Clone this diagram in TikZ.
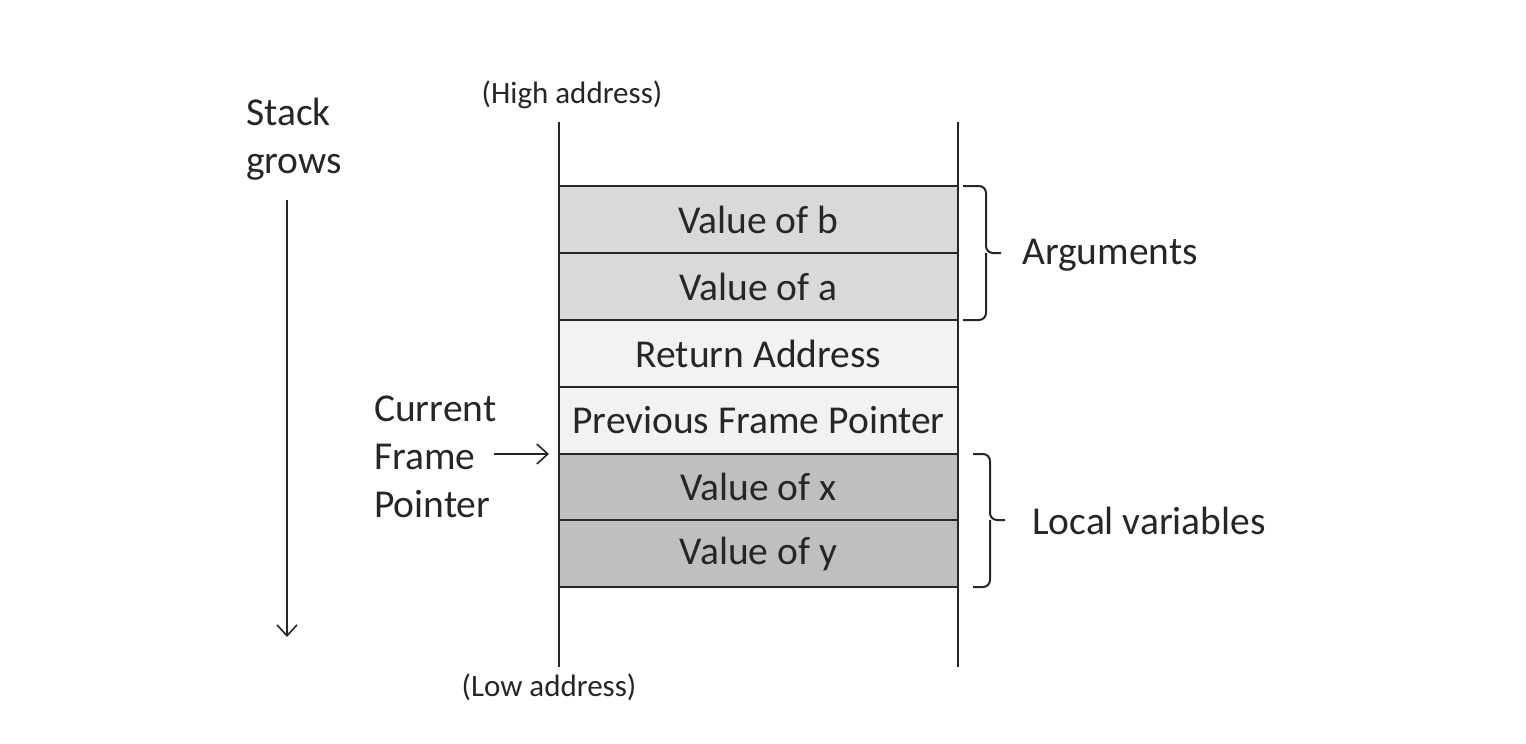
\documentclass[tikz,border=0pt]{standalone}
\usepackage{fontspec}
\setmainfont{Carlito}
\usetikzlibrary{arrows.meta}
\definecolor{txt}{HTML}{262626}
\definecolor{argfill}{HTML}{D9D9D9}
\definecolor{midfill}{HTML}{F2F2F2}
\definecolor{locfill}{HTML}{BFBFBF}
\definecolor{ln}{HTML}{262626}
\tikzset{
  cell/.style={draw=ln, line width=2pt, minimum width=399pt, minimum height=67pt, inner sep=0pt, text=txt, font=\fontsize{39.5}{46}\selectfont},
  lbl/.style={inner sep=0pt, text=txt, font=\fontsize{39.5}{48}\selectfont, align=left},
  small/.style={inner sep=0pt, text=txt, font=\fontsize{31}{34}\selectfont},
  wall/.style={draw=ln, line width=2pt},
  brc/.style={draw=ln, line width=2pt, rounded corners=7pt},
  arr/.style={draw=ln, line width=1.6pt, -{Straight Barb[length=11pt,width=20pt]}}
}
\begin{document}
\begin{tikzpicture}[x=1pt,y=-1pt]
\useasboundingbox (0,0) rectangle (1526,744);
% walls
\coordinate (lt) at (559,122);
\coordinate (lb) at (559,667);
\coordinate (rt) at (958,122);
\coordinate (rb) at (958,667);
\draw[wall] (lt) -- (lb);
\draw[wall] (rt) -- (rb);
% cells
\node[cell, fill=argfill] (b) at (758.5,219.5) {Value of b};
\node[cell, fill=argfill] (a) at (758.5,286.5) {Value of a};
\node[cell, fill=midfill] (ret) at (758.5,353.5) {Return Address};
\node[cell, fill=midfill] (pfp) at (758.5,420.5) {Previous Frame Pointer};
\node[cell, fill=locfill] (x) at (758.5,487) {Value of x};
\node[cell, fill=locfill] (y) at (758.5,553.5) {Value of y};
% address labels
\node[small] (high) at (572,95) {(High address)};
\node[small] (low) at (549,687) {(Low address)};
% stack grows
\node[lbl, anchor=west] (sg) at (246,139) {Stack\\grows};
\coordinate (sgs) at (287,200);
\coordinate (sge) at (287,637);
\draw[arr] (sgs) -- (sge);
% current frame pointer
\node[lbl, anchor=west] (cfp) at (374,457) {Current\\Frame\\Pointer};
\coordinate (cfps) at (494,454);
\coordinate (cfpe) at (549,454);
\draw[arr] (cfps) -- (cfpe);
% braces
\draw[brc] (963,186) -- (986,186) -- (986,253) -- (1001,253);
\draw[brc] (963,320) -- (986,320) -- (986,253);
\node[lbl, anchor=west] (args) at (1022,255) {Arguments};
\draw[brc] (973,454) -- (990,454) -- (990,520) -- (1005,520);
\draw[brc] (973,587) -- (990,587) -- (990,520);
\node[lbl, anchor=west] (locs) at (1032,521) {Local variables};
\end{tikzpicture}
\end{document}
